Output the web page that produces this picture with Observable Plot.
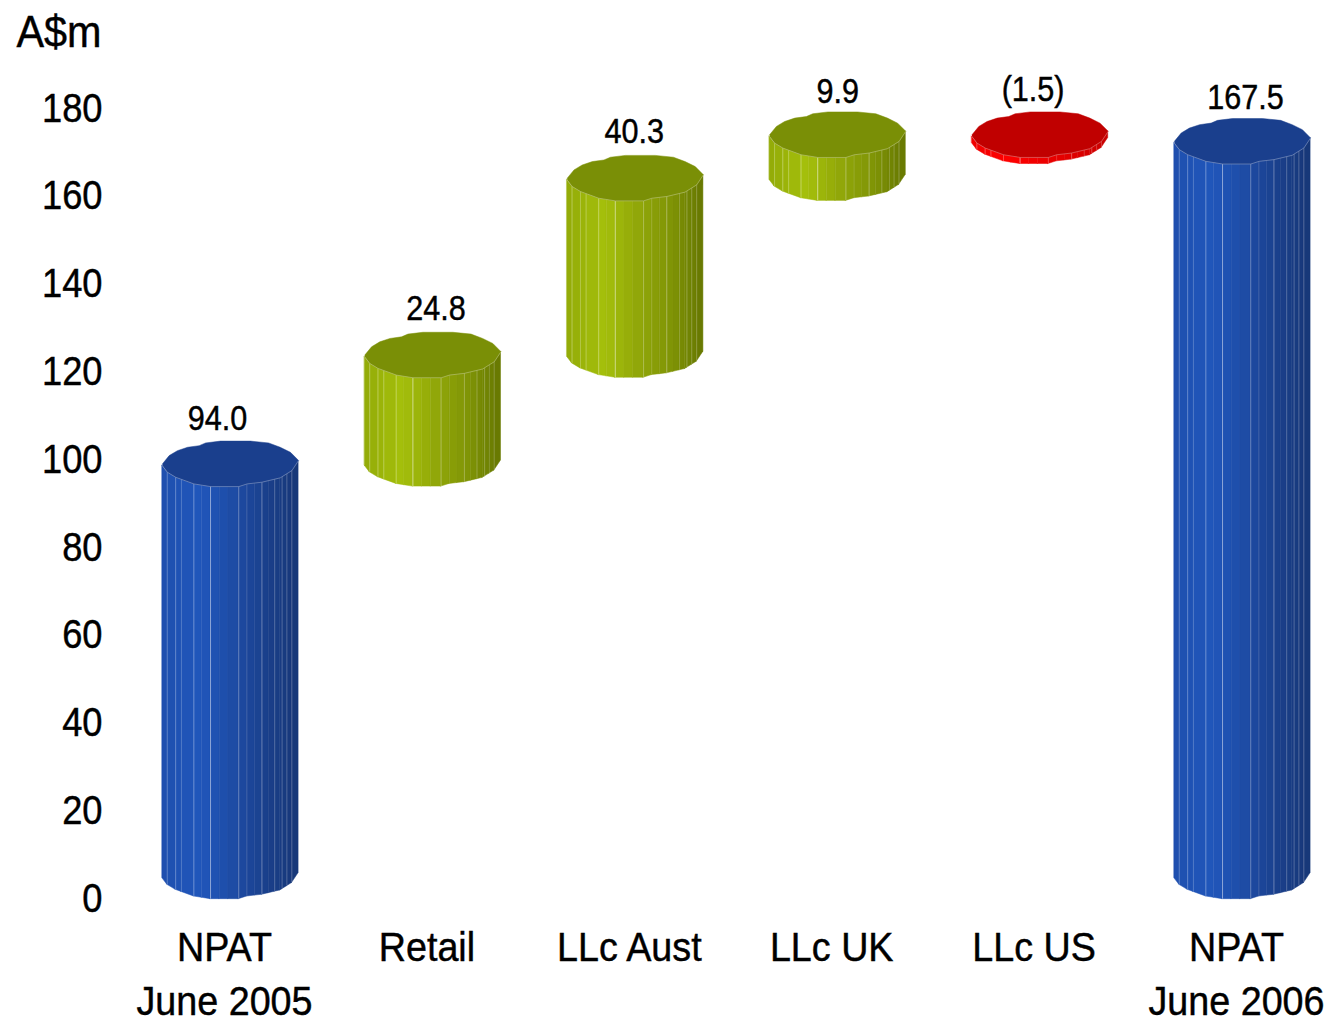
<!DOCTYPE html>
<html>
<head>
<meta charset="utf-8">
<style>html,body{margin:0;padding:0;background:#fff}svg{display:block}</style>
<script src="https://cdn.jsdelivr.net/npm/d3@7"></script>
<script src="https://cdn.jsdelivr.net/npm/@observablehq/plot@0.6"></script>
</head>
<body>
<div id="chart"></div>
<script>
// NPAT bridge, A$m
const categories = ["NPAT\nJune 2005", "Retail", "LLc Aust", "LLc UK", "LLc US", "NPAT\nJune 2006"];
const amounts = [94.0, 24.8, 40.3, 9.9, -1.5, 167.5];
const kinds = ["total", "up", "up", "up", "down", "total"];
const yTicks = [0, 20, 40, 60, 80, 100, 120, 140, 160, 180];

// Value label nudges, in pixels
const labelDx = [-13, 3, -1, 0, -7, 3];
const labelDy = [-45, -47, -47, -43, -45, -44];

// Shading per kind
const palettes = {
  total: {top: "#1a3f8d", shade: ["#1f4fae", "#2056bb", "#1e4da8", "#1a3f8a", "#173777"]},
  up:    {top: "#7a8f06", shade: ["#93ab08", "#a5c00b", "#93a909", "#7f9306", "#667700"]},
  down:  {top: "#c00000", shade: ["#f00000", "#ff0000", "#ee0000", "#dd0000", "#c80000"]}
};

// Outline of the faceted disc: u across, v down, both normalised to the radius
const rimBack = [[-1,0],[-.9,-.365],[-.78,-.58],[-.63,-.73],[-.46,-.8],[-.366,-.92],[-.146,-1],[.293,-1],[.56,-.92],[.73,-.73],[.88,-.51],[1,-.15]];
const rimFront = [[-1,.08],[-.927,.365],[-.805,.584],[-.537,.876],[-.293,.993],[.122,.993],[.244,.876],[.463,.8],[.73,.61],[.902,.29],[1,-.15]];

// Facet seams on the side wall and how bright each one reads
const seams = [[-.927,.25],[-.805,.25],[-.72,.22],[-.537,.28],[-.293,.48],[.122,.26],[.244,.1],[.463,.28],[.65,.18],[.76,.2],[.83,.18],[.902,.2]];

const radiusX = 0.3365;   // in bar spacings
const radiusY = 5.2;      // in A$m

// Running totals give each cylinder its span
let running = 0;
const spans = amounts.map((a, i) => {
  if (kinds[i] === "total") { running = a; return {i, low: 0, high: a}; }
  const from = running;
  running += a;
  return {i, low: Math.min(from, running), high: Math.max(from, running)};
});

const rimAt = (u) => {
  for (let k = 1; k < rimFront.length; ++k) {
    const [u0, v0] = rimFront[k - 1], [u1, v1] = rimFront[k];
    if (u <= u1) return v0 + (v1 - v0) * (u - u0) / (u1 - u0);
  }
  return rimFront[rimFront.length - 1][1];
};

// Side wall strips, broken at the rim vertices so the curved ends stay true
const stops = Array.from(new Set([
  ...rimFront.map((d) => d[0]), ...seams.map((d) => d[0]),
  -.42, -.16, -.03, .36, .56
])).sort(d3.ascending);
const wall = [];
for (const s of spans) {
  const ramp = d3.scaleLinear().domain([-1, -.45, 0, .55, 1]).range(palettes[kinds[s.i]].shade);
  stops.slice(1).forEach((u1, k) => {
    const u0 = stops[k], id = s.i + "-" + k, fill = ramp((u0 + u1) / 2);
    for (const u of [u0, u1]) {
      wall.push({id, fill, x: s.i + u * radiusX, y1: s.low - rimAt(u) * radiusY, y2: s.high - rimAt(u) * radiusY});
    }
  });
}

const seamLines = spans.flatMap((s) => seams.map(([u, o]) => ({
  o, x: s.i + u * radiusX, y1: s.low - rimAt(u) * radiusY, y2: s.high - rimAt(u) * radiusY
})));

// Top disc as one closed polygon
const capPoints = spans.flatMap((s) => [...rimBack, ...rimFront.slice().reverse()].map(([u, v]) => ({
  i: s.i, fill: palettes[kinds[s.i]].top, x: s.i + u * radiusX, y: s.high - v * radiusY
})));
const capEdge = spans.flatMap((s) => rimFront.map(([u, v]) => ({i: s.i, x: s.i + u * radiusX, y: s.high - v * radiusY})));

const fmt = (v) => v < 0 ? `(${Math.abs(v).toFixed(1)})` : v.toFixed(1);

const chart = Plot.plot({
  width: 1330,
  height: 1021,
  marginLeft: 102,
  marginRight: 0,
  marginTop: 0,
  marginBottom: 0,
  style: {fontFamily: "'Liberation Sans',sans-serif", color: "#000", background: "#fff"},
  x: {type: "linear", domain: [0, 5], range: [230, 1242], axis: null},
  y: {domain: [0, 180], range: [876, 86], axis: null},
  marks: [
    Plot.axisY({ticks: yTicks, anchor: "left", tickSize: 0, tickPadding: 0, dy: 22, fontSize: 41, label: null, fontVariant: "normal", className: "tick-label"}),
    Plot.areaY(wall, {x: "x", y1: "y1", y2: "y2", z: "id", fill: "fill", stroke: "fill", strokeWidth: 0.5, curve: "linear"}),
    Plot.ruleX(seamLines, {x: "x", y1: "y1", y2: "y2", stroke: "#fff", strokeOpacity: "o", strokeWidth: 1}),
    Plot.line(capPoints, {x: "x", y: "y", z: "i", fill: "fill", stroke: "fill", strokeWidth: 0.5, curve: "linear"}),
    Plot.line(capEdge, {x: "x", y: "y", z: "i", stroke: "#fff", strokeOpacity: 0.3, strokeWidth: 1, curve: "linear"}),
    ...spans.map((s) => Plot.text([s], {
      x: "i", y: "high", text: (d) => fmt(amounts[d.i]), className: "value-label",
      dx: labelDx[s.i], dy: labelDy[s.i], fontSize: 36, fill: "#000"
    })),
    Plot.text(categories, {
      x: (d, i) => i, text: (d) => d, frameAnchor: "bottom", lineAnchor: "top", className: "category-label",
      dy: -99, dx: -6, fontSize: 41, lineHeight: 1.32, fill: "#000"
    }),
    Plot.text(["A$m"], {
      frameAnchor: "top-left", lineAnchor: "middle", textAnchor: "start", className: "unit-label",
      dx: -86, dy: 32, fontSize: 45, fill: "#000"
    })
  ]
});

// No condensed face is installed, so narrow each label about its own anchor
const condense = {"tick-label": 0.885, "value-label": 0.85, "category-label": 0.92, "unit-label": 0.92};
for (const [name, k] of Object.entries(condense)) {
  d3.select(chart).selectAll(`.${name} text, text.${name}`).each(function () {
    this.setAttribute("transform", `${this.getAttribute("transform") || ""} scale(${k},1)`);
    this.setAttribute("stroke", "#000");
    this.setAttribute("stroke-width", "0.45");
  });
}
document.getElementById("chart").append(chart);
</script>
</body>
</html>
